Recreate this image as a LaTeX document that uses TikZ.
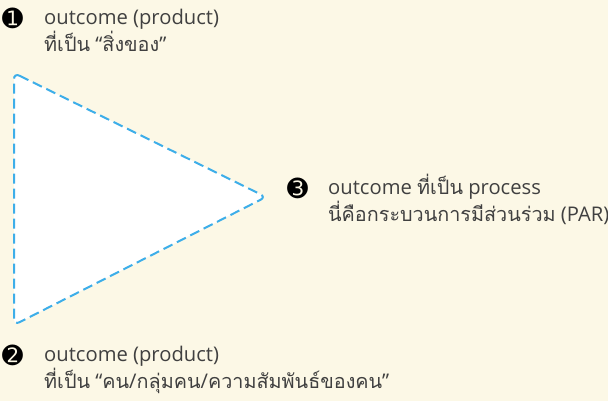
\documentclass[tikz,border=0pt]{standalone}
\usepackage{fontspec}
\setmainfont{Open Sans}
\newfontfamily\thaifont[Script=Thai]{Loma}
\newfontfamily\symfont{DejaVu Sans}
\definecolor{bgcream}{HTML}{FCF8E6}
\definecolor{dashblue}{HTML}{3DAEE9}
\definecolor{txtgray}{HTML}{404040}
\newcommand{\thtxt}[1]{{\thaifont\fontsize{19.8}{25}\selectfont #1}}
\begin{document}
\begin{tikzpicture}[x=1pt,y=-1pt,
  label text/.style={anchor=base west,inner sep=0pt,text=txtgray,font=\fontsize{20.2}{25}\selectfont,align=left},
  bullet/.style={anchor=base west,inner sep=0pt,text=black,font=\symfont\fontsize{25}{25}\selectfont}]
\fill[bgcream] (0,0) rectangle (608,401);
\useasboundingbox (0,0) rectangle (608,401);
\coordinate (tl) at (14,73);
\coordinate (bl) at (14,325);
\coordinate (rt) at (266,197);
\filldraw[fill=white,draw=dashblue,line width=2pt,dash pattern=on 10pt off 5pt,rounded corners=6pt] (tl) -- (rt) -- (bl) -- cycle;
\node[bullet] (b1) at (2,28) {➊};
\node[label text] (t1a) at (44,25) {outcome (product)};
\node[label text] (t1b) at (44,52) {\thtxt{ที่เป็น} “\thtxt{สิ่งของ}”};
\node[bullet] (b3) at (287,197) {➌};
\node[label text] (t3a) at (328,194) {outcome \thtxt{ที่เป็น} process};
\node[label text] (t3b) at (328,221) {\thtxt{นี่คือกระบวนการมีส่วนร่วม} (PAR)};
\node[bullet] (b2) at (2,364) {➋};
\node[label text] (t2a) at (44,361) {outcome (product)};
\node[label text] (t2b) at (44,388) {\thtxt{ที่เป็น} “\thtxt{คน}/\thtxt{กลุ่มคน}/\thtxt{ความสัมพันธ์ของคน}”};
\end{tikzpicture}
\end{document}
